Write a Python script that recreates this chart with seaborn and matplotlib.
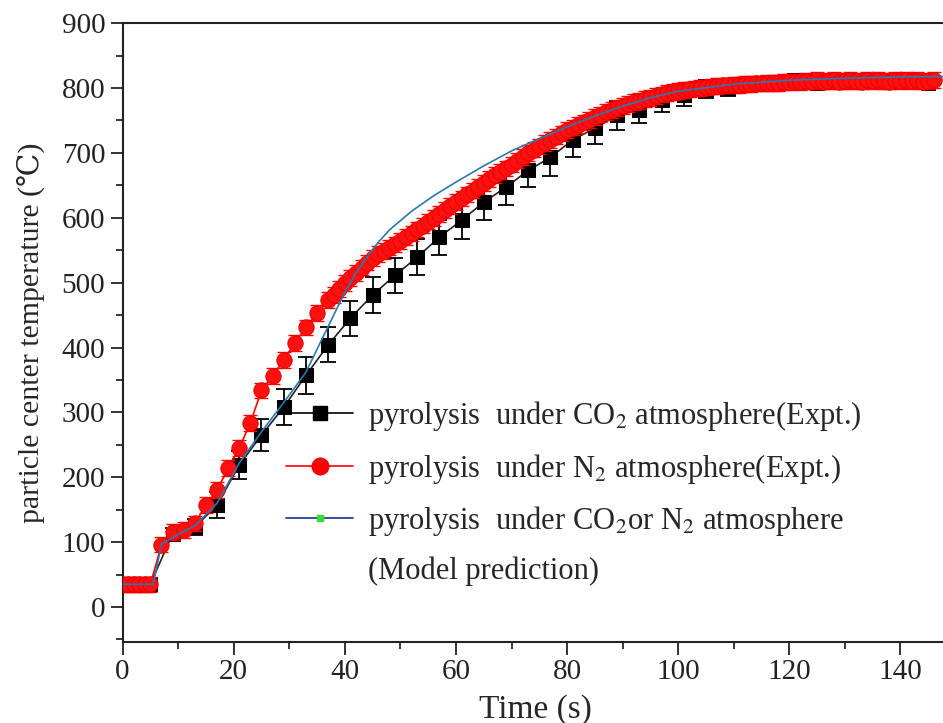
import numpy as np
import pandas as pd
import matplotlib
matplotlib.use('Agg')
import matplotlib.pyplot as plt
import seaborn as sns
from matplotlib.lines import Line2D
from matplotlib.ticker import MultipleLocator

# N2 atmosphere (Expt.) - red circles
n2_time = [0, 1, 2, 3, 4, 5, 7, 9, 11, 13, 15, 17, 19, 21, 23, 25, 27, 29, 31, 33, 35, 37,
           38, 39, 40, 41, 42, 43, 44, 45, 46, 47, 48, 49, 50, 51, 52, 53, 54, 55, 56, 57,
           58, 59, 60, 61, 62, 63, 64, 65, 66, 67, 68, 69, 70, 71, 72, 73, 74, 75, 76, 77,
           78, 79, 80, 81, 82, 83, 84, 85, 86, 87, 88, 89, 90, 91, 92, 93, 94, 95, 96, 97,
           98, 99, 100, 101, 102, 103, 104, 105, 106, 107, 108, 109, 110, 111, 112, 113,
           114, 115, 116, 117, 118, 119, 120, 121, 122, 123, 124, 125, 126, 127, 128, 129,
           130, 131, 132, 133, 134, 135, 136, 137, 138, 139, 140, 141, 142, 143, 144, 145, 146]
n2_temp = [35, 35, 35, 35, 35, 35, 96, 116, 119, 129, 157, 180, 214, 245, 284, 334, 356, 381, 407, 431, 453, 473,
           481, 490, 499, 507, 515, 523, 531, 538, 544, 549, 554, 559, 564, 570, 576, 582, 588, 594, 600, 606,
           612, 618, 624, 630, 636, 642, 648, 654, 660, 666, 671, 676, 682, 688, 694, 700, 705, 710, 715, 720,
           725, 730, 735, 739, 743, 747, 751, 755, 759, 763, 766, 769, 772, 775, 778, 780, 783, 785, 788, 790,
           792, 794, 795, 797, 798, 799, 800, 801, 802, 803, 804, 804, 805, 805, 806, 806,
           807, 807, 808, 808, 808, 809, 809, 810, 809, 811, 810, 812, 810, 811, 812, 810,
           811, 812, 811, 810, 812, 811, 812, 811, 810, 812, 811, 812, 811, 812, 810, 811, 812]

# CO2 atmosphere (Expt.) - black squares with error bars
co2_time = [1, 5, 9, 13, 17, 21, 25, 29, 33, 37, 41, 45, 49, 53, 57, 61, 65, 69, 73, 77,
            81, 85, 89, 93, 97, 101, 105, 109, 113, 117, 121, 125, 129, 133, 137, 141, 145]
co2_temp = [35, 35, 113, 123, 157, 219, 265, 308, 357, 404, 445, 481, 511, 539, 570, 596, 624, 647, 673, 693,
            720, 738, 758, 766, 781, 789, 798, 800, 805, 808, 812, 808, 810, 811, 810, 810, 808]
co2_err = [5, 5, 8, 12, 20, 22, 25, 28, 28, 27, 27, 28, 27, 28, 27, 28, 27, 27, 26, 28,
           26, 24, 22, 20, 18, 16, 14, 12, 10, 10, 10, 10, 10, 10, 10, 10, 10]

# model prediction
model_time = [0, 5.5, 7, 10, 13, 17, 21, 25, 29, 33, 36, 38, 40, 42, 44, 46, 48, 52, 56, 60,
              65, 70, 75, 80, 85, 90, 95, 100, 110, 120, 130, 140, 149]
model_temp = [35, 35, 97, 112, 125, 160, 222, 270, 315, 362, 415, 450, 485, 515, 540, 562, 581, 610, 634, 655,
              680, 703, 722, 740, 757, 772, 785, 795, 806, 812, 815, 817, 818]

sns.set_style('ticks')
plt.rcParams['font.family'] = ['Liberation Serif', 'DejaVu Serif']
plt.rcParams['mathtext.fontset'] = 'stix'

n2_df = pd.DataFrame({'t': n2_time, 'T': n2_temp})
co2_df = pd.DataFrame({'t': co2_time, 'T': co2_temp})
model_df = pd.DataFrame({'t': model_time, 'T': model_temp})

fig = plt.figure(figsize=(9.43, 7.23), dpi=100)
ax = fig.add_axes([0.130, 0.112, 0.875, 0.856])

# CO2 experiment
ax.errorbar(co2_df.t, co2_df['T'], yerr=co2_err, fmt='none', ecolor='black',
            elinewidth=1.3, capsize=6, capthick=1.3, zorder=2)
sns.lineplot(data=co2_df, x='t', y='T', color='#222222', linewidth=1.2, marker='s',
             markersize=10, markerfacecolor='black', markeredgecolor='black',
             ax=ax, zorder=3, sort=False)

# N2 experiment
ax.errorbar(n2_df.t, n2_df['T'], yerr=12, fmt='none', ecolor='red',
            elinewidth=1, capsize=5, capthick=1, zorder=3)
sns.lineplot(data=n2_df, x='t', y='T', color='red', linewidth=1.2, marker='o',
             markersize=11, markerfacecolor='#ff1010', markeredgecolor='#ee0000',
             ax=ax, zorder=4, sort=False)

# model
sns.lineplot(data=model_df, x='t', y='T', color='#2a78b0', linewidth=1.2, ax=ax,
             zorder=5, sort=False)

ax.set_xlim(0, 148.5)
ax.set_ylim(-54, 900)
ax.xaxis.set_major_locator(MultipleLocator(20))
ax.xaxis.set_minor_locator(MultipleLocator(10))
ax.yaxis.set_major_locator(MultipleLocator(100))
ax.yaxis.set_minor_locator(MultipleLocator(50))
ax.tick_params(which='major', direction='out', length=9, width=1.3, labelsize=21, colors='#222222')
ax.tick_params(which='minor', direction='out', length=5, width=1.3)
for s in ['left', 'bottom', 'top']:
    ax.spines[s].set_linewidth(1.5)
    ax.spines[s].set_color('#222222')
ax.spines['right'].set_visible(False)
ax.set_xlabel('Time (s)', fontsize=24, labelpad=6)
ax.set_ylabel('particle center temperature (℃)', fontsize=21.5, labelpad=12)

handles = [
    Line2D([], [], color='black', linewidth=1.2, marker='s', markersize=10),
    Line2D([], [], color='red', linewidth=1.2, marker='o', markersize=12),
    Line2D([], [], color='#1a2a9a', linewidth=1.2, marker='s', markersize=4,
           markerfacecolor='#33dd33', markeredgecolor='#33dd33'),
    Line2D([], [], color='none'),
]
labels = [
    'pyrolysis  under CO$_2$ atmosphere(Expt.)',
    'pyrolysis  under N$_2$ atmosphere(Expt.)',
    'pyrolysis  under CO$_2$or N$_2$ atmosphere',
    '(Model prediction)',
]
ax.legend(handles, labels, loc='upper left', bbox_to_anchor=(0.287, 0.469),
          bbox_transform=fig.transFigure, frameon=False, fontsize=22,
          handlelength=2.2, handletextpad=0.5, labelspacing=0.6, borderpad=0)

fig.savefig('out.png', dpi=100)
